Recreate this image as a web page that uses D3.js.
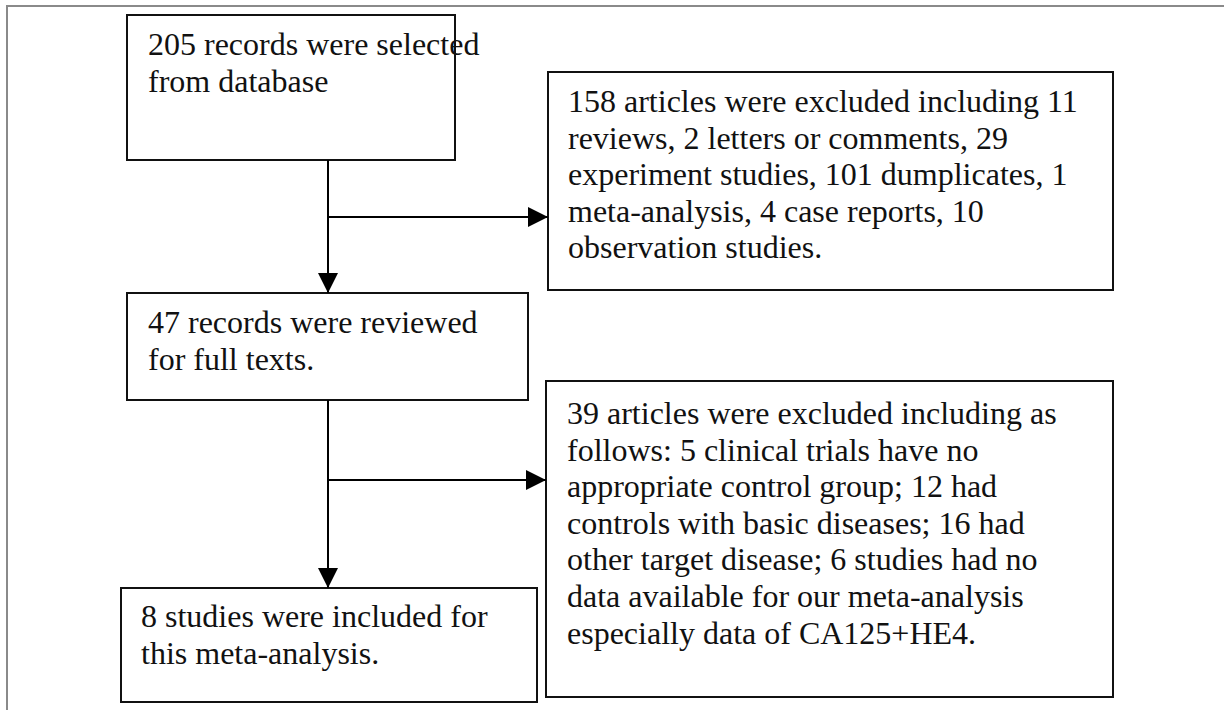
<!DOCTYPE html>
<html>
<head>
<meta charset="utf-8">
<script src="https://cdn.jsdelivr.net/npm/d3@7"></script>
<style>
  html, body { margin: 0; padding: 0; background: #fff; }
  svg { display: block; }
  text { font-family: "Liberation Serif", "Times New Roman", Times, serif; }
</style>
</head>
<body>
<svg id="flow" width="1224" height="710"></svg>
<script>
// box texts (one entry per line)
const boxIds = ["selected", "excluded1", "reviewed", "excluded2", "included"];
const boxLines = [
  ["205 records were selected", "from database"],
  ["158 articles were excluded including 11", "reviews, 2 letters or comments, 29",
   "experiment studies, 101 dumplicates, 1", "meta-analysis, 4 case reports, 10",
   "observation studies."],
  ["47 records were reviewed", "for full texts."],
  ["39 articles were excluded including as", "follows: 5 clinical trials have no",
   "appropriate control group; 12 had", "controls with basic diseases; 16 had",
   "other target disease; 6 studies had no", "data available for our meta-analysis",
   "especially data of CA125+HE4."],
  ["8 studies were included for", "this meta-analysis."]
];
// links between boxes: main flow goes down, exclusions branch right
const links = [
  { from: "selected", to: "reviewed", side: "excluded1", branchY: 217 },
  { from: "reviewed", to: "included", side: "excluded2", branchY: 480 }
];

const svg = d3.select("#flow");
const width = +svg.attr("width");
const height = +svg.attr("height");

// layout (pixel positions of boxes)
const layout = {
  selected:  { x: 127, y: 15,  w: 328, h: 145, tx: 148, ty: 55 },
  excluded1: { x: 548, y: 72,  w: 565, h: 218, tx: 568, ty: 112 },
  reviewed:  { x: 127, y: 293, w: 401, h: 107, tx: 148, ty: 333 },
  excluded2: { x: 546, y: 381, w: 567, h: 316, tx: 567, ty: 424 },
  included:  { x: 121, y: 588, w: 416, h: 114, tx: 141, ty: 627 }
};
const lineH = 36.6;
const spineX = 328;

svg.append("defs").append("marker")
  .attr("id", "arrow")
  .attr("viewBox", "0 0 20 20")
  .attr("refX", 20).attr("refY", 10)
  .attr("markerWidth", 20).attr("markerHeight", 20)
  .attr("markerUnits", "userSpaceOnUse")
  .attr("orient", "auto")
  .append("path")
  .attr("d", "M0,0 L20,10 L0,20 Z")
  .attr("fill", "#000");

// outer frame (only top and left edges visible)
svg.append("path")
  .attr("d", `M7,${height} L7,6 L${width},6`)
  .attr("fill", "none")
  .attr("stroke", "#8a8a8a")
  .attr("stroke-width", 2);

const boxes = boxIds.map((id, i) => ({ id, lines: boxLines[i], ...layout[id] }));

const g = svg.append("g")
  .selectAll("g")
  .data(boxes)
  .enter()
  .append("g");

g.append("rect")
  .attr("x", d => d.x)
  .attr("y", d => d.y)
  .attr("width", d => d.w)
  .attr("height", d => d.h)
  .attr("fill", "#fff")
  .attr("stroke", "#111")
  .attr("stroke-width", 2);

g.append("text")
  .attr("font-size", 32)
  .attr("fill", "#111")
  .selectAll("tspan")
  .data(d => d.lines.map((t, k) => ({ t, x: d.tx, y: d.ty + k * lineH })))
  .enter()
  .append("tspan")
  .attr("x", d => d.x)
  .attr("y", d => d.y)
  .text(d => d.t);

// arrows
links.forEach(l => {
  const a = layout[l.from], b = layout[l.to], s = layout[l.side];
  svg.append("line")
    .attr("x1", spineX).attr("y1", a.y + a.h)
    .attr("x2", spineX).attr("y2", b.y)
    .attr("stroke", "#000").attr("stroke-width", 2)
    .attr("marker-end", "url(#arrow)");
  svg.append("line")
    .attr("x1", spineX).attr("y1", l.branchY)
    .attr("x2", s.x).attr("y2", l.branchY)
    .attr("stroke", "#000").attr("stroke-width", 2)
    .attr("marker-end", "url(#arrow)");
});
</script>
</body>
</html>
